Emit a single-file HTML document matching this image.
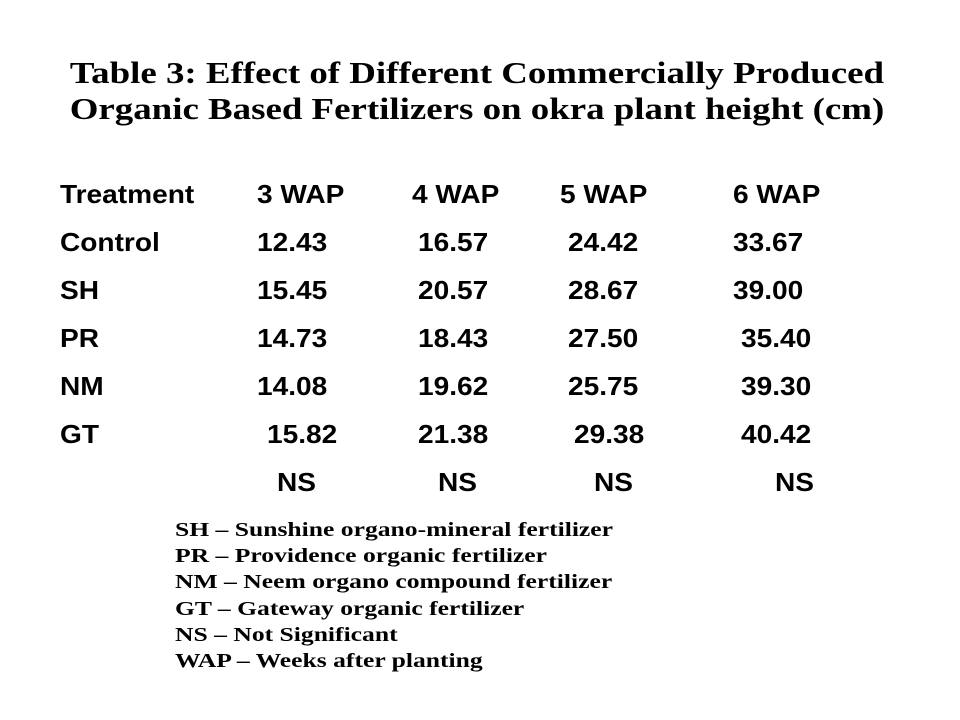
<!DOCTYPE html>
<html><head><meta charset="utf-8"><style>
body{margin:0;width:960px;height:720px;background:#fff;position:relative;overflow:hidden}
.t{position:absolute;font-family:"Liberation Serif",serif;font-weight:bold;font-size:31px;left:0;width:954px;text-align:center;white-space:nowrap;transform:scaleX(1.19);transform-origin:477px 0}
.c{position:absolute;font-family:"Liberation Sans",sans-serif;font-weight:bold;font-size:26px;white-space:nowrap;line-height:1;transform:scaleX(1.08);transform-origin:0 0}
.f{position:absolute;left:175px;font-family:"Liberation Serif",serif;font-weight:bold;font-size:20px;white-space:nowrap;line-height:1;transform:scaleX(1.28);transform-origin:0 0}
</style></head><body>
<div class="t" style="top:55px">Table 3: Effect of Different Commercially Produced</div>
<div class="t" style="top:91px">Organic Based Fertilizers on okra plant height (cm)</div>
<div id="tbl"></div>
<div class="f" style="top:520px">SH – Sunshine organo-mineral fertilizer</div>
<div class="f" style="top:546px">PR – Providence organic fertilizer</div>
<div class="f" style="top:572px">NM – Neem organo compound fertilizer</div>
<div class="f" style="top:599px">GT – Gateway organic fertilizer</div>
<div class="f" style="top:625px">NS – Not Significant</div>
<div class="f" style="top:651px">WAP – Weeks after planting</div>
<script>
const headers=["Treatment","3 WAP","4 WAP","5 WAP","6 WAP"];
const treatments=["Control","SH","PR","NM","GT",""];
const wap3=["12.43","15.45","14.73","14.08","15.82","NS"];
const wap4=["16.57","20.57","18.43","19.62","21.38","NS"];
const wap5=["24.42","28.67","27.50","25.75","29.38","NS"];
const wap6=["33.67","39.00","35.40","39.30","40.42","NS"];
const colX=[60,257,412,560,733];
const offs=[[0,0,0,0,0],[0,0,6,8,0],[0,0,6,8,0],[0,0,6,8,8],[0,0,6,8,8],[0,10,6,14,8],[0,20,26,34,42]];
const tbl=document.getElementById('tbl');
const rows=[headers];
for(let i=0;i<treatments.length;i++)rows.push([treatments[i],wap3[i],wap4[i],wap5[i],wap6[i]]);
rows.forEach((r,ri)=>{r.forEach((v,ci)=>{if(!v)return;
const d=document.createElement('div');d.className='c';


d.style.left=(colX[ci]+offs[ri][ci])+'px';d.style.top=(181+ri*48)+'px';d.textContent=v;tbl.appendChild(d);});});
</script>
</body></html>
